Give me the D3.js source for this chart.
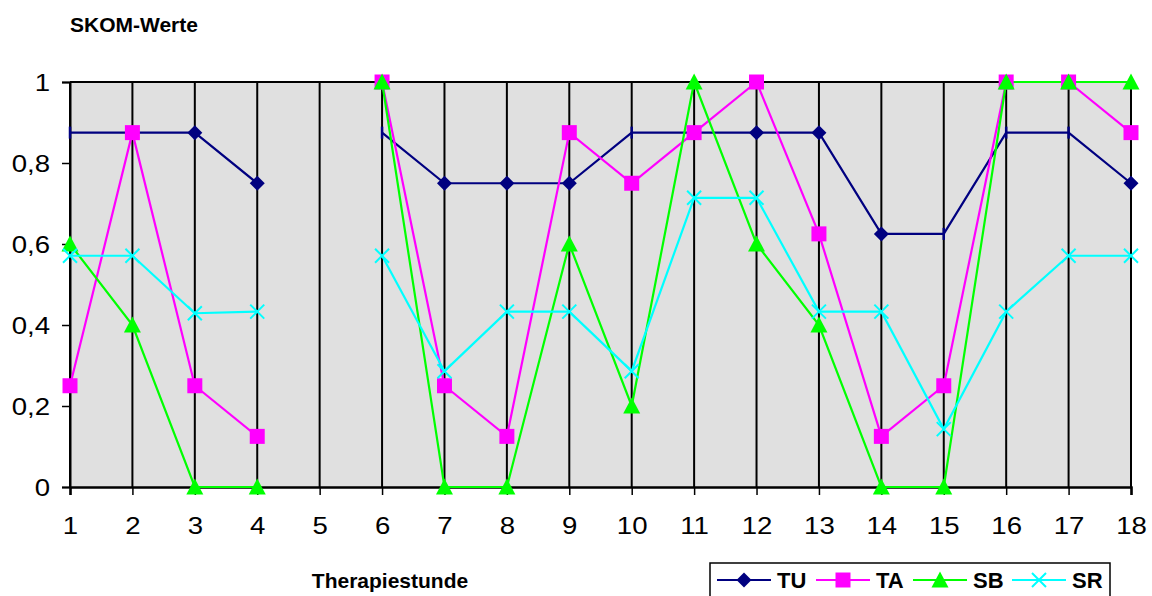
<!DOCTYPE html>
<html><head><meta charset="utf-8">
<script src="https://cdn.jsdelivr.net/npm/d3@7"></script>
<style>body{margin:0;background:#fff}svg{display:block;font-family:"Liberation Sans",Arial,sans-serif}</style>
</head><body>
<svg id="c" width="1152" height="596"></svg>
<script>
const categories = ["1","2","3","4","5","6","7","8","9","10","11","12","13","14","15","16","17","18"];
const TU = [0.875,0.875,0.875,0.75,null,0.875,0.75,0.75,0.75,0.875,0.875,0.875,0.875,0.625,0.625,0.875,0.875,0.75];
const TA = [0.25,0.875,0.25,0.125,null,1,0.25,0.125,0.875,0.75,0.875,1,0.625,0.125,0.25,1,1,0.875];
const SB = [0.6,0.4,0,0,null,1,0,0,0.6,0.2,1,0.6,0.4,0,0,1,1,1];
const SR = [0.571,0.571,0.429,0.433,null,0.571,0.286,0.433,0.433,0.286,0.714,0.714,0.433,0.433,0.143,0.433,0.571,0.571];
const yTicks = [0,0.2,0.4,0.6,0.8,1];
const yTickLabels = ["0","0,2","0,4","0,6","0,8","1"];
// TU points whose marker appears only as a thin stroke in the original
const tuThinMarkers = ["1","6","10","15","16","17"];

const series = [
  {name:"TU", values:TU, color:"#000080", marker:"diamond"},
  {name:"TA", values:TA, color:"#ff00ff", marker:"square"},
  {name:"SB", values:SB, color:"#00ff00", marker:"triangle"},
  {name:"SR", values:SR, color:"#00ffff", marker:"x"}
];

const svg = d3.select("#c");
const L=70, R=1131, T=82, B=487;
const x = d3.scalePoint().domain(categories).range([L,R]);
const y = d3.scaleLinear().domain([0,1]).range([B,T]);
const FONT = "Liberation Sans, Arial, sans-serif";
const TICKFS = 23, STRETCH = 1.2;

svg.append("rect").attr("x",L).attr("y",T).attr("width",R-L).attr("height",B-T).attr("fill","#e0e0e0");

svg.append("g").selectAll("line").data(categories).join("line")
  .attr("x1",d=>x(d)).attr("x2",d=>x(d)).attr("y1",T).attr("y2",B)
  .attr("stroke","#000").attr("stroke-width",2);
svg.append("line").attr("x1",L).attr("x2",R).attr("y1",T).attr("y2",T).attr("stroke","#000").attr("stroke-width",2);

// y axis
const ya = svg.append("g").attr("transform",`translate(${L},0)`)
  .call(d3.axisLeft(y).tickValues(yTicks).tickFormat((d,i)=>yTickLabels[i]).tickSize(8).tickPadding(0));
ya.select(".domain").attr("stroke","#000").attr("stroke-width",2);
ya.selectAll(".tick line").attr("stroke","#000").attr("stroke-width",1.5);
ya.selectAll(".tick text").attr("x",null).attr("dy",null)
  .attr("transform",`translate(-20,8) scale(${STRETCH},1)`)
  .attr("font-size",TICKFS).attr("fill","#000").attr("font-family",FONT);

// x axis
const xa = svg.append("g").attr("transform",`translate(0,${B})`)
  .call(d3.axisBottom(x).tickSize(8).tickPadding(0));
xa.select(".domain").attr("stroke","#000").attr("stroke-width",2.5);
xa.selectAll(".tick line").attr("stroke","#000").attr("stroke-width",1.5);
xa.selectAll(".tick text").attr("y",null).attr("dy",null)
  .attr("transform",`translate(0,47) scale(${STRETCH},1)`)
  .attr("font-size",TICKFS).attr("fill","#000").attr("font-family",FONT);

function markerPath(type, s){
  const h=s/2;
  if(type==="diamond") return `M0,${-h}L${h},0L0,${h}L${-h},0Z`;
  if(type==="square") return `M${-h},${-h}H${h}V${h}H${-h}Z`;
  if(type==="triangle") return `M0,${-h-1}L${h+1},${h}L${-h-1},${h}Z`;
  return `M${-h},${-h}L${h},${h}M${h},${-h}L${-h},${h}`;
}

const line = d3.line().defined(d=>d.v!==null).x(d=>x(d.c)).y(d=>y(d.v));
series.forEach(s=>{
  const pts = categories.map((c,i)=>({c, v:s.values[i]}));
  svg.append("path").datum(pts).attr("d",line).attr("fill","none")
    .attr("stroke",s.color).attr("stroke-width",2.2);
});
series.forEach(s=>{
  const pts = categories.map((c,i)=>({c, v:s.values[i]})).filter(d=>d.v!==null);
  const g = svg.append("g");
  pts.forEach(d=>{
    const tx=x(d.c), ty=y(d.v);
    if(s.name==="TU" && tuThinMarkers.includes(d.c)){
      g.append("line").attr("x1",tx).attr("x2",tx).attr("y1",ty-6).attr("y2",ty+6)
        .attr("stroke",s.color).attr("stroke-width",2.5);
      return;
    }
    const p = g.append("path").attr("transform",`translate(${tx},${ty})`)
      .attr("d",markerPath(s.marker, s.marker==="x"?14:15));
    if(s.marker==="x") p.attr("fill","none").attr("stroke",s.color).attr("stroke-width",2);
    else p.attr("fill",s.color);
  });
});

svg.append("text").attr("x",70).attr("y",32).attr("font-size",21).attr("font-weight","bold").text("SKOM-Werte");
svg.append("text").attr("x",390).attr("y",588).attr("text-anchor","middle").attr("font-size",21).attr("font-weight","bold").text("Therapiestunde");

const lg = svg.append("g");
lg.append("rect").attr("x",710).attr("y",563).attr("width",400).attr("height",40).attr("fill","#fff").attr("stroke","#000").attr("stroke-width",1.5);
const legX = [717, 816, 913, 1012];
series.forEach((s,i)=>{
  const x0=legX[i], ly=580;
  lg.append("line").attr("x1",x0).attr("x2",x0+54).attr("y1",ly).attr("y2",ly).attr("stroke",s.color).attr("stroke-width",2.2);
  const p = lg.append("path").attr("transform",`translate(${x0+27},${ly})`).attr("d",markerPath(s.marker, s.marker==="x"?14:15));
  if(s.marker==="x") p.attr("fill","none").attr("stroke",s.color).attr("stroke-width",2);
  else p.attr("fill",s.color);
  lg.append("text").attr("x",x0+60).attr("y",ly+8).attr("font-size",22).attr("font-weight","bold").text(s.name);
});
</script>
</body></html>
